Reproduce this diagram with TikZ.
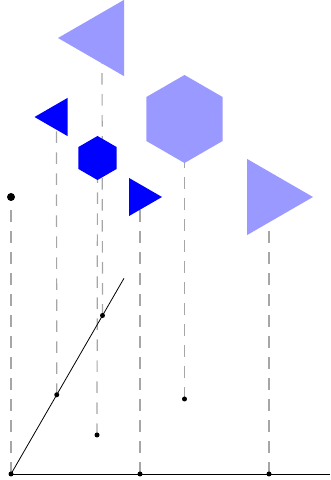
\documentclass[tikz,border=0pt]{standalone}
\usetikzlibrary{shapes.geometric,backgrounds,calc}

\begin{document}
\begin{tikzpicture}[
    x=1pt, y=1pt,
    dot/.style={circle, fill=black, inner sep=0pt, minimum size=5pt},
    bigdot/.style={dot, minimum size=8pt},
    small_tri/.style={
      regular polygon, regular polygon sides=3,
      fill=blue, inner sep=0pt, minimum size=44pt,
      shape border rotate=#1
    },
    big_tri/.style={small_tri=#1, fill=blue!40, minimum size=88pt},
    small_hex/.style={
      regular polygon, regular polygon sides=6,
      fill=blue, inner sep=0pt, minimum size=44pt,
      shape border rotate=30
    },
    big_hex/.style={small_hex, fill=blue!40, minimum size=88pt},
    guide/.style={draw=black!35, dash pattern=on 11.5pt off 9.5pt, line width=1.2pt},
    axis/.style={draw, line width=0.8pt}
  ]
  \useasboundingbox (0,0) rectangle (330,480);
  % points on the two axes
  \node[dot] (o) at (11,6) {};
  \node[dot] (b1) at (140,6) {};
  \node[dot] (b2) at (269,6) {};
  \coordinate (xend) at (330,6);
  \coordinate (send) at ($(o)+(60:226)$);
  \node[dot] (s1) at ($(o)+(60:91.5)$) {};
  \node[dot] (s2) at ($(o)+(60:183)$) {};
  \node[dot] (p1) at (97,45) {};
  \node[dot] (p2) at (184.5,81) {};
  % the shapes above
  \node[bigdot] (apex) at (11,283) {};
  \node[big_tri=90] (tri_big_left) at (102,442) {};
  \node[small_tri=90] (tri_left) at (56.5,363) {};
  \node[small_hex] (hex_small) at (97.5,322) {};
  \node[small_tri=-90] (tri_right) at (140,283) {};
  \node[big_hex] (hex_big) at (184.5,361) {};
  \node[big_tri=-90] (tri_big_right) at (269,283) {};
  \draw[axis] (o.center) -- (xend);
  \draw[axis] (o.center) -- (send);
  \begin{scope}[on background layer]
    \draw[guide] (o.center) -- (apex.center);
    \draw[guide] (s1.center) -- (tri_left.center);
    \draw[guide] (p1.center) -- (hex_small.center);
    \draw[guide] (s2.center) -- (tri_big_left.center);
    \draw[guide] (b1.center) -- (tri_right.center);
    \draw[guide] (p2.center) -- (hex_big.center);
    \draw[guide] (b2.center) -- (tri_big_right.center);
  \end{scope}
\end{tikzpicture}
\end{document}
